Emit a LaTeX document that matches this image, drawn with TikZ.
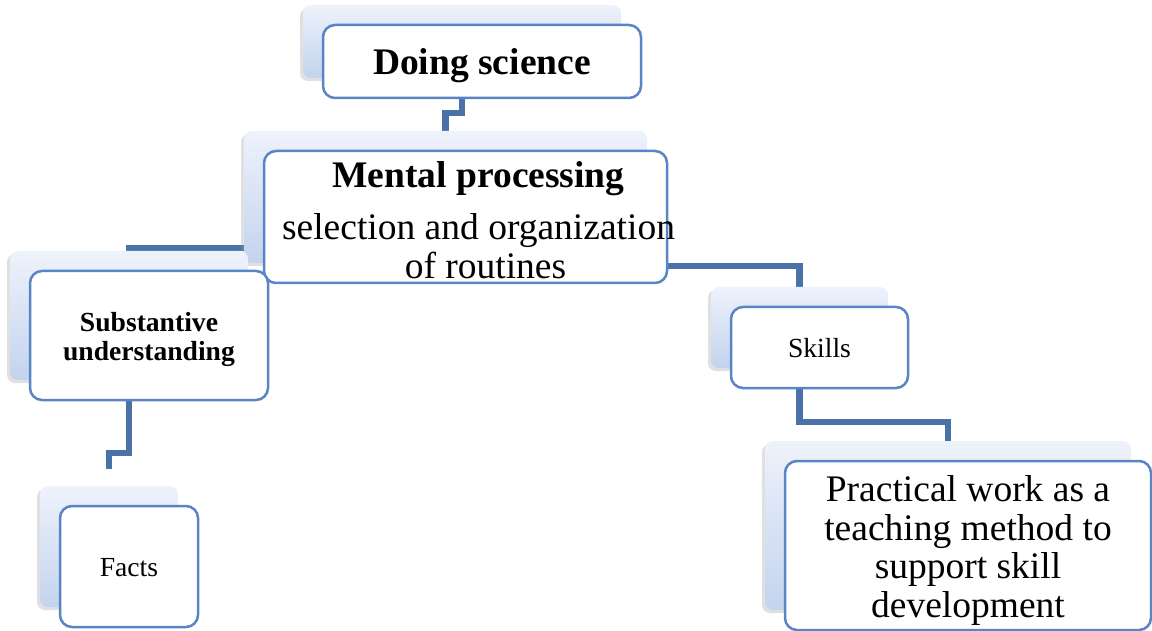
\documentclass[tikz,border=0pt]{standalone}
\usepackage{fontspec}
\setmainfont{Liberation Serif}
\usetikzlibrary{backgrounds,shadows,calc}
\definecolor{boxline}{HTML}{5A85C4}
\definecolor{linkblue}{HTML}{4A72A8}
\definecolor{shtop}{HTML}{EEF2FB}
\definecolor{shbot}{HTML}{C3D3EE}

\begin{document}
\begin{tikzpicture}[
		x=1pt, y=-1pt,
		F/.style = {rectangle, draw=boxline, line width=2.5pt, fill=white,
			rounded corners=12pt, inner sep=2pt},% front boxes, text set as label
		S/.style = {rectangle, rounded corners=8pt,
			top color=shtop, bottom color=shbot,
			general shadow={fill=black!40, opacity=.3,
				shadow xshift=-3pt, shadow yshift=-3pt}},% shaded box behind
		L/.style = {draw=linkblue, line width=6.5pt},
		big/.style = {align=center, font=\fontsize{37.5}{38.5}\selectfont},
		small/.style = {align=center, font=\fontsize{27.6}{29}\selectfont},
		]
		\useasboundingbox (0,0) rectangle (1152,631);
		% shaded boxes, one behind each text box
		\foreach \n/\x/\y/\w/\h in {doing/482/61.5/318/73,
			mental/465.5/217/403/132,
			subst/149/335.5/238/129,
			facts/129/566.5/138/121,
			skills/819.5/347.5/177/81,
			practical/968/545.5/366/169}
		\node[S, minimum width=\w pt, minimum height=\h pt] (\n-sh) at (\x-20,\y-20) {};
		% text boxes
		\node[F, minimum width=318pt, minimum height=73pt,
			label={[big, yshift=-4pt]center:\textbf{Doing science}}] (doing) at (482,61.5) {};
		\node[F, minimum width=403pt, minimum height=132pt,
			label={[big, xshift=13pt, yshift=-3pt]center:{\textbf{Mental processing}\\[14pt]
			selection and organization\\ \hspace*{14pt}of routines}}] (mental) at (465.5,217) {};
		\node[F, minimum width=238pt, minimum height=129pt,
			label={[small, yshift=-4pt]center:{\textbf{Substantive}\\ \textbf{understanding}}}] (subst) at (149,335.5) {};
		\node[F, minimum width=138pt, minimum height=121pt,
			label={[small, yshift=-1pt]center:Facts}] (facts) at (129,566.5) {};
		\node[F, minimum width=177pt, minimum height=81pt,
			label={[small, yshift=-1pt]center:Skills}] (skills) at (819.5,347.5) {};
		\node[F, minimum width=366pt, minimum height=169pt,
			label={[big, yshift=-5pt]center:{Practical work as a\\ teaching method to\\ support skill\\ development}}] (practical) at (968,545.5) {};
		% links
		\begin{scope}[on background layer]
			\draw[L] (doing-sh.south) -- ++(0,35) -| (mental-sh.north);
			\draw[L] ([yshift=15pt]mental-sh.south west) -| (subst-sh.north);
			\draw[L] ([yshift=18pt]mental.south east) -| (skills-sh.north);
			\draw[L] (subst-sh.south) -- ++(0,73) -| ([yshift=17pt]facts-sh.north);
			\draw[L] (skills-sh.south) -- ++(0,54) -| (practical-sh.north);
		\end{scope}
	\end{tikzpicture}
\end{document}
